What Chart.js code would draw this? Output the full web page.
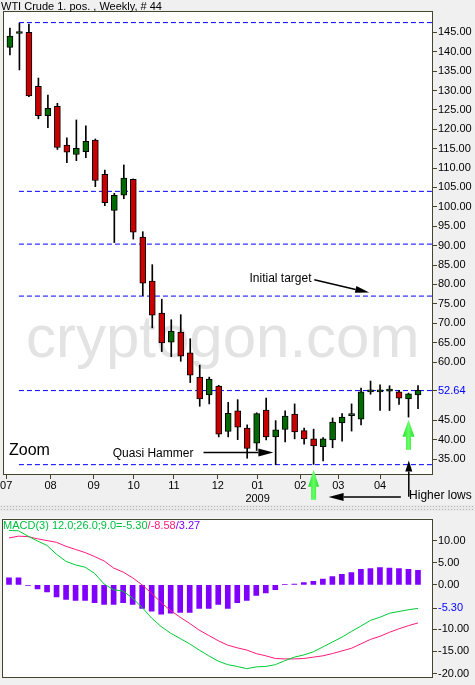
<!DOCTYPE html>
<html>
<head>
<meta charset="utf-8">
<script src="https://cdn.jsdelivr.net/npm/chart.js@4.4.1/dist/chart.umd.min.js"></script>
<style>
  html, body { margin: 0; padding: 0; background: #f0f0f0; }
  body { width: 475px; height: 685px; position: relative; overflow: hidden; }
  #priceChart { position: absolute; left: 0; top: 0; }
  #macdChart { position: absolute; left: 0; top: 511px; }
  #split {
    position: absolute; left: 0; top: 505px; width: 475px; height: 6px;
    background: radial-gradient(circle, #b4b4b4 0.7px, transparent 0.9px) 0 0 / 3px 3px, #e9e9e9;
  }
</style>
</head>
<body>
<canvas id="priceChart" width="475" height="505"></canvas>
<div id="split"></div>
<canvas id="macdChart" width="475" height="174"></canvas>
<script>
// WTI crude, weekly candles (Jul 2008 - May 2009)
const openP  = [141.1, 144.7, 145.0, 131.1, 123.5, 125.9, 115.9, 113.5, 114.2, 117.2, 108.4, 99.1, 103.0, 107.1, 92.2, 80.9, 72.6, 65.1, 67.7, 62.4, 56.1, 51.5, 53.8, 42.1, 47.4, 43.0, 39.1, 47.6, 40.7, 42.6, 46.6, 42.3, 40.2, 38.2, 39.9, 44.3, 46.2, 45.3, 52.3, 52.3, 52.5, 52.3, 50.5, 51.5];
const highP  = [146.1, 147.3, 147.1, 133.2, 128.8, 126.7, 117.8, 122.4, 120.9, 117.5, 109.5, 103.5, 110.8, 107.2, 93.6, 85.1, 76.2, 70.9, 72.2, 66.0, 59.2, 56.1, 54.0, 49.6, 50.3, 43.8, 46.9, 50.7, 44.9, 47.4, 49.2, 43.0, 42.7, 40.5, 45.6, 46.7, 49.2, 53.3, 55.1, 54.1, 53.9, 52.7, 52.0, 53.9];
const lowP   = [139.2, 135.3, 128.4, 122.7, 120.4, 114.8, 111.4, 111.9, 112.7, 105.2, 100.3, 90.8, 102.1, 91.7, 77.1, 68.8, 62.7, 61.4, 60.2, 54.7, 48.6, 49.2, 40.7, 40.7, 40.0, 35.2, 37.2, 39.9, 33.6, 39.4, 40.2, 38.8, 33.6, 34.5, 37.9, 39.6, 42.2, 43.8, 51.7, 47.5, 47.5, 49.1, 45.8, 48.0];
const closeP = [144.0, 144.7, 128.6, 123.5, 125.4, 115.3, 114.1, 115.1, 116.9, 106.8, 101.1, 103.0, 107.4, 93.5, 80.3, 72.1, 64.9, 68.0, 61.5, 56.6, 50.5, 55.6, 41.4, 46.8, 43.2, 37.7, 46.7, 40.7, 42.5, 46.1, 42.0, 40.2, 38.4, 40.2, 44.5, 45.8, 46.4, 52.3, 52.5, 52.4, 52.6, 50.7, 51.8, 52.7];

// horizontal levels drawn on the price panel
const levels = [147.5, 104.0, 90.4, 77.0, 52.64, 33.55];

// MACD(12,26,9)
const macdLine   = [12.3, 12.2, 11.0, 9.9, 8.9, 6.9, 5.3, 4.5, 4.0, 2.6, 0.2, -1.1, -1.4, -3.0, -5.1, -7.5, -9.4, -10.9, -12.1, -13.3, -14.7, -16.0, -17.2, -18.0, -18.4, -18.9, -18.5, -18.4, -18.0, -17.1, -16.3, -15.8, -15.1, -14.0, -12.9, -11.8, -10.5, -9.3, -8.0, -7.3, -6.4, -6.0, -5.6, -5.30];
const signalLine = [10.6, 11.0, 10.9, 10.4, 10.0, 9.6, 8.7, 8.0, 7.3, 6.4, 5.4, 3.8, 2.9, 1.6, 0.0, -1.9, -4.0, -5.8, -7.3, -8.7, -10.2, -11.4, -12.6, -13.6, -14.2, -14.7, -15.5, -16.0, -16.6, -16.7, -16.7, -16.6, -16.3, -16.0, -15.5, -14.9, -14.3, -13.3, -12.3, -11.6, -10.7, -9.9, -9.2, -8.58];
const macdHist   = [1.6, 1.6, -0.1, -0.9, -1.6, -2.7, -3.3, -3.5, -3.5, -4.0, -4.4, -4.4, -4.0, -4.4, -5.3, -5.9, -6.6, -6.4, -6.2, -6.2, -5.3, -5.3, -4.4, -5.3, -4.0, -3.5, -2.4, -1.8, -1.1, 0.1, 0.2, 0.5, 0.8, 1.3, 1.9, 2.4, 2.8, 3.5, 3.7, 3.9, 3.8, 3.7, 3.5, 3.27];

// axis ticks
const monthPos    = [-0.4, 4.28, 8.83, 13.04, 17.28, 21.9, 26.1, 30.6, 34.6, 39.0];
const monthLabels = ['07', '08', '09', '10', '11', '12', ['01', '2009'], '02', '03', '04'];
const priceTicks  = [35, 40, 45, 52.64, 60, 65, 70, 75, 80, 85, 90, 95, 100, 105, 110, 115, 120, 125, 130, 135, 140, 145];
const macdTicks   = [-20, -15, -10, -5.3, 0, 5, 10];

const FONT = 'Liberation Sans, Arial, sans-serif';
const FRAME = '#45452d';
const X_MIN = -0.736, X_MAX = 44.58;
const weeks = openP.map((_, i) => i);

function frameAndBg(id) {
  return {
    id: id,
    beforeDraw(chart) {
      const { ctx, chartArea: a } = chart;
      ctx.save();
      ctx.fillStyle = '#f0f0f0';
      ctx.fillRect(0, 0, chart.width, chart.height);
      ctx.fillStyle = '#ffffff';
      ctx.fillRect(a.left, a.top, a.right - a.left, a.bottom - a.top);
      ctx.restore();
    },
    afterDatasetsDraw(chart) {
      const { ctx, chartArea: a } = chart;
      ctx.save();
      ctx.strokeStyle = FRAME;
      ctx.lineWidth = 1;
      ctx.strokeRect(Math.round(a.left) + 0.5, Math.round(a.top) + 0.5,
        Math.round(a.right - a.left) - 1, Math.round(a.bottom - a.top) - 1);
      ctx.restore();
    }
  };
}

function arrow(ctx, x1, y1, x2, y2, headLen, headW, color, lw) {
  const ang = Math.atan2(y2 - y1, x2 - x1);
  const bx = x2 - headLen * Math.cos(ang), by = y2 - headLen * Math.sin(ang);
  ctx.strokeStyle = color;
  ctx.fillStyle = color;
  ctx.lineWidth = lw;
  ctx.beginPath();
  ctx.moveTo(x1, y1);
  ctx.lineTo(bx, by);
  ctx.stroke();
  ctx.beginPath();
  ctx.moveTo(x2, y2);
  ctx.lineTo(bx + headW / 2 * Math.sin(ang), by - headW / 2 * Math.cos(ang));
  ctx.lineTo(bx - headW / 2 * Math.sin(ang), by + headW / 2 * Math.cos(ang));
  ctx.closePath();
  ctx.fill();
}

function fatArrowUp(ctx, x, yTip, yBase, headLen, headW, shaftW) {
  const g = ctx.createLinearGradient(x - headW / 2, 0, x + headW / 2, 0);
  g.addColorStop(0, '#22dd22');
  g.addColorStop(0.5, '#66ff66');
  g.addColorStop(1, '#22dd22');
  ctx.fillStyle = g;
  ctx.beginPath();
  ctx.moveTo(x, yTip);
  ctx.lineTo(x + headW / 2, yTip + headLen);
  ctx.lineTo(x + shaftW / 2, yTip + headLen);
  ctx.lineTo(x + shaftW / 2, yBase);
  ctx.lineTo(x - shaftW / 2, yBase);
  ctx.lineTo(x - shaftW / 2, yTip + headLen);
  ctx.lineTo(x - headW / 2, yTip + headLen);
  ctx.closePath();
  ctx.fill();
}

const priceDecor = {
  id: 'priceDecor',
  beforeDatasetsDraw(chart) {
    const { ctx, chartArea: a } = chart;
    ctx.save();
    ctx.font = '60px ' + FONT;
    ctx.fillStyle = '#e3e3e3';
    ctx.textBaseline = 'alphabetic';
    ctx.fillText('cryptogon.com', a.left + 23, a.top + 346);
    ctx.restore();
  },
  afterDraw(chart) {
    const { ctx } = chart;
    const X = v => chart.scales.x.getPixelForValue(v);
    const Y = v => chart.scales.y.getPixelForValue(v);
    ctx.save();
    ctx.fillStyle = '#000';
    ctx.font = '11px ' + FONT;
    ctx.textBaseline = 'alphabetic';
    ctx.fillText('WTI Crude 1. pos. , Weekly, # 44', 1, 9.5);

    ctx.textBaseline = 'middle';
    ctx.font = '12px ' + FONT;
    ctx.fillText('Initial target', X(25.24), Y(81.45));
    arrow(ctx, X(32.07), Y(81.2), X(37.86), Y(77.9), 14, 7, '#000', 1.5);

    ctx.fillText('Quasi Hammer', X(10.83), Y(36.45));
    arrow(ctx, X(20.4), Y(36.7), X(27.76), Y(36.7), 15, 8, '#000', 1.5);

    ctx.font = '16px ' + FONT;
    ctx.fillText('Zoom', X(-0.1), Y(37.2));

    fatArrowUp(ctx, X(32), Y(32.25), Y(24.52), 17, 11, 5);
    fatArrowUp(ctx, X(42), Y(45.13), Y(37.4), 17, 12, 5);

    arrow(ctx, X(42.03), Y(25.3), X(42.03), Y(34.64), 11, 7, '#000', 1.5);
    arrow(ctx, X(41.19), Y(25.22), X(33.58), Y(25.22), 15, 8, '#000', 1.5);

    ctx.font = '12px ' + FONT;
    ctx.fillStyle = '#000';
    ctx.fillText('Higher lows', X(42.06), Y(25.55));
    ctx.restore();
  }
};

const macdDecor = {
  id: 'macdDecor',
  afterDraw(chart) {
    const { ctx, chartArea: a } = chart;
    ctx.save();
    ctx.font = '11px ' + FONT;
    ctx.textBaseline = 'alphabetic';
    const parts = [
      ['MACD(3) 12.0;26.0;9.0=-5.30', '#00c040'],
      ['/-8.58', '#ff1a7a'],
      ['/3.27', '#8000ff']
    ];
    let x = a.left + 1;
    for (const [t, c] of parts) {
      ctx.fillStyle = c;
      ctx.fillText(t, x, a.top + 10);
      x += ctx.measureText(t).width;
    }
    ctx.restore();
  }
};

const tickFont = { family: FONT, size: 11 };

new Chart(document.getElementById('priceChart'), {
  type: 'bar',
  data: {
    datasets: [
      ...levels.map(lv => ({
        type: 'line',
        data: [{ x: 0.95, y: lv }, { x: X_MAX, y: lv }],
        borderColor: '#0000ff',
        borderWidth: 1,
        borderDash: [5, 3],
        pointRadius: 0,
        order: 3
      })),
      {
        type: 'bar',
        data: weeks.map(i => ({ x: i, y: [lowP[i], highP[i]] })),
        backgroundColor: '#000',
        borderWidth: 0,
        barThickness: 1,
        grouped: false,
        order: 2
      },
      {
        type: 'bar',
        data: weeks.map(i => ({ x: i, y: [Math.min(openP[i], closeP[i]), Math.max(openP[i], closeP[i])] })),
        backgroundColor: weeks.map(i => closeP[i] >= openP[i] ? '#006a00' : '#c80000'),
        borderColor: '#000',
        borderWidth: 1,
        borderSkipped: false,
        barThickness: 6,
        minBarLength: 2,
        grouped: false,
        order: 1
      }
    ]
  },
  options: {
    responsive: false,
    animation: false,
    events: [],
    layout: { padding: { left: 2, top: 11, right: 0, bottom: 0 } },
    plugins: { legend: { display: false }, tooltip: { enabled: false } },
    scales: {
      x: {
        type: 'linear',
        min: X_MIN,
        max: X_MAX,
        offset: false,
        afterBuildTicks: s => { s.ticks = monthPos.map(v => ({ value: v })); },
        afterFit: s => { s.height = 30; },
        grid: { offset: false, drawOnChartArea: false, drawTicks: true, tickLength: 4, color: FRAME },
        border: { display: false },
        ticks: {
          autoSkip: false, maxRotation: 0, padding: 0, color: '#000', font: tickFont,
          callback: (v, i) => monthLabels[i]
        }
      },
      y: {
        position: 'right',
        min: 30.88,
        max: 150.49,
        afterBuildTicks: s => { s.ticks = priceTicks.map(v => ({ value: v })); },
        afterFit: s => { s.width = 42; },
        grid: { drawOnChartArea: false, drawTicks: true, tickLength: 4, color: FRAME },
        border: { display: false },
        ticks: {
          padding: 1, font: tickFont,
          color: c => c.tick && c.tick.value === 52.64 ? '#0000ff' : '#000',
          callback: v => Number(v).toFixed(2)
        }
      }
    }
  },
  plugins: [frameAndBg('priceFrame'), priceDecor]
});

new Chart(document.getElementById('macdChart'), {
  type: 'bar',
  data: {
    datasets: [
      {
        type: 'line',
        data: weeks.map(i => ({ x: i, y: macdLine[i] })),
        borderColor: '#00cc33',
        borderWidth: 1,
        pointRadius: 0,
        tension: 0,
        order: 1
      },
      {
        type: 'line',
        data: weeks.map(i => ({ x: i, y: signalLine[i] })),
        borderColor: '#ff1a7a',
        borderWidth: 1,
        pointRadius: 0,
        tension: 0,
        order: 2
      },
      {
        type: 'bar',
        data: weeks.map(i => ({ x: i, y: macdHist[i] })),
        backgroundColor: '#8000ff',
        borderWidth: 0,
        barThickness: 5,
        grouped: false,
        order: 3
      }
    ]
  },
  options: {
    responsive: false,
    animation: false,
    events: [],
    layout: { padding: { left: 2, top: 4, right: 0, bottom: 6 } },
    plugins: { legend: { display: false }, tooltip: { enabled: false } },
    scales: {
      x: { type: 'linear', min: X_MIN, max: X_MAX, offset: false, display: false },
      y: {
        position: 'right',
        min: -20.87,
        max: 14.96,
        afterBuildTicks: s => { s.ticks = macdTicks.map(v => ({ value: v })); },
        afterFit: s => { s.width = 42; },
        grid: { drawOnChartArea: false, drawTicks: true, tickLength: 4, color: FRAME },
        border: { display: false },
        ticks: {
          padding: 1, font: tickFont,
          color: c => c.tick && c.tick.value === -5.3 ? '#0000ff' : '#000',
          callback: v => Number(v).toFixed(2)
        }
      }
    }
  },
  plugins: [frameAndBg('macdFrame'), macdDecor]
});
</script>
</body>
</html>
